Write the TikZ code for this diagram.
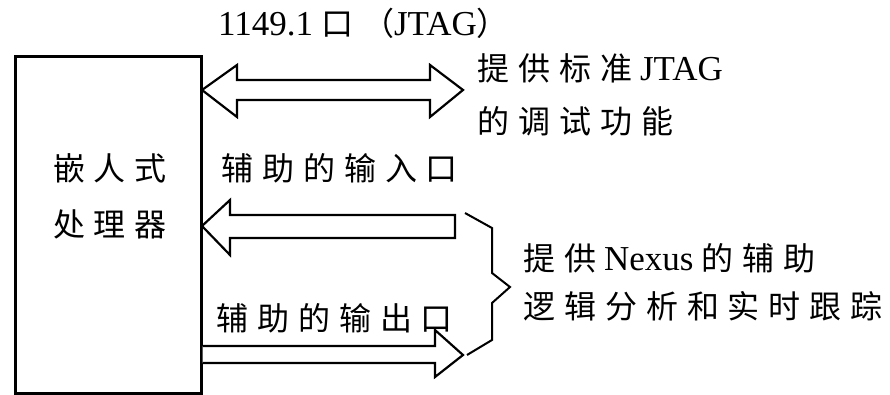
\documentclass[tikz,border=0pt]{standalone}
\usepackage{fontspec}
\setmainfont{Liberation Serif}
\newfontfamily\cjk[LetterSpace=28]{Noto Sans CJK SC}
\newcommand{\lt}[1]{{\fontsize{35}{40}\selectfont #1}}
\begin{document}
\begin{tikzpicture}[x=1pt,y=-1pt,line join=miter,
  outl/.style={draw=black,line width=2.2pt,fill=white},
  brace/.style={draw=black,line width=2pt},
  lbl/.style={anchor=west,inner sep=0pt,font=\fontsize{32}{38}\selectfont},
  boxtxt/.style={inner sep=0pt,font=\fontsize{32}{38}\selectfont}]
\useasboundingbox (0,0) rectangle (890,395);
% processor box
\node[draw,line width=2.6pt,minimum width=186pt,minimum height=337pt,
      anchor=north west,inner sep=0pt] (cpu) at (14,55) {};
\node[boxtxt] (t1) at (110,168) {\cjk 嵌人式};
\node[boxtxt] (t2) at (110,224) {\cjk 处理器};
% JTAG double arrow
\draw[outl] (202,90) -- (237,65) -- (237,80) -- (430,80) -- (430,65) -- (463,90)
  -- (430,117) -- (430,100) -- (237,100) -- (237,117) -- cycle;
% input arrow
\draw[outl] (202,226) -- (230,200) -- (230,215) -- (455,215) -- (455,238)
  -- (230,238) -- (230,255) -- cycle;
% output arrow
\filldraw[outl] (cpu.east |- 0,346) -- (435,346) -- (435,330) -- (463,355)
  -- (435,377) -- (435,363) -- (cpu.east |- 0,363);
% brace
\draw[brace] (465,213) -- (492,228) -- (492,273) -- (510,287) -- (492,303)
  -- (492,340) -- (467,355);
% labels
\node[lbl] (jt) at (218,23) {\lt{1149.1} {\cjk 口（}\lt{JTAG}{\cjk ）}};
\node[lbl] (d1) at (477,68) {{\cjk 提供标准} \lt{JTAG}};
\node[lbl] (d2) at (477,121) {\cjk 的调试功能};
\node[lbl] (in) at (221,168) {\cjk 辅助的输入口};
\node[lbl] (out) at (216,318) {\cjk 辅助的输出口};
\node[lbl] (n1) at (523,258) {{\cjk 提供} \lt{Nexus} {\cjk 的辅助}};
\node[lbl] (n2) at (523,306) {\cjk 逻辑分析和实时跟踪};
\end{tikzpicture}
\end{document}
